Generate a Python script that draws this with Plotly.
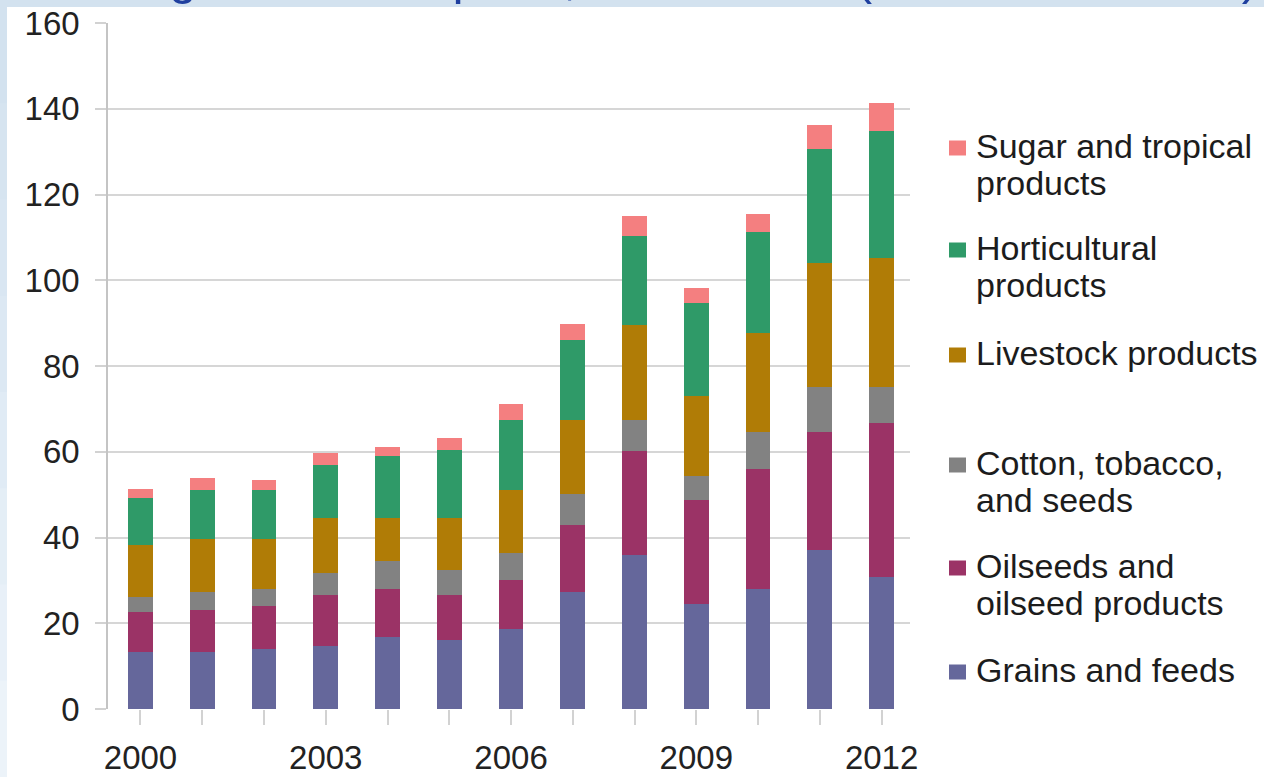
import plotly.graph_objects as go

years = [2000, 2001, 2002, 2003, 2004, 2005, 2006, 2007, 2008, 2009, 2010, 2011, 2012]
grains = [13.3, 13.2, 13.9, 14.7, 16.8, 16.1, 18.7, 27.2, 35.9, 24.5, 28.0, 37.2, 30.9]
oilseeds = [9.3, 10.0, 10.1, 12.0, 11.3, 10.6, 11.4, 15.8, 24.3, 24.3, 28.0, 27.4, 35.9]
cotton = [3.5, 4.2, 4.0, 5.1, 6.4, 5.8, 6.3, 7.2, 7.1, 5.6, 8.6, 10.6, 8.4]
livestock = [12.2, 12.2, 11.6, 12.8, 10.1, 12.1, 14.6, 17.1, 22.3, 18.7, 23.0, 28.9, 30.1]
horticultural = [10.8, 11.4, 11.4, 12.2, 14.3, 15.7, 16.3, 18.8, 20.8, 21.6, 23.6, 26.5, 29.5]
sugar = [2.1, 2.9, 2.3, 2.8, 2.1, 3.0, 3.8, 3.7, 4.5, 3.6, 4.3, 5.6, 6.5]

x_tick_labels = ["2000", "", "", "2003", "", "", "2006", "", "", "2009", "", "", "2012"]
y_ticks = [0, 20, 40, 60, 80, 100, 120, 140, 160]

series_names = ["Grains and feeds", "Oilseeds and oilseed products", "Cotton, tobacco, and seeds",
                "Livestock products", "Horticultural products", "Sugar and tropical products"]
series_values = [grains, oilseeds, cotton, livestock, horticultural, sugar]
series_colors = ["#65679b", "#9b3366", "#828282", "#b07c06", "#2f9a68", "#f47f80"]

legend_lines = [
    (["Sugar and tropical", "products"], "#f47f80", 158),
    (["Horticultural", "products"], "#2f9a68", 260),
    (["Livestock products"], "#b07c06", 365),
    (["Cotton, tobacco,", "and seeds"], "#828282", 475),
    (["Oilseeds and", "oilseed products"], "#9b3366", 578),
    (["Grains and feeds"], "#65679b", 682),
]

W, H = 1264, 777
L, R, T, B = 108, 354, 23, 68
PW = W - L - R
PH = H - T - B

def px_x(px):
    return (px - L) / PW

def px_y(py):
    return (H - B - py) / PH

FONT = "Liberation Sans, Arial, Helvetica, sans-serif"

fig = go.Figure()
for name, vals, col in zip(series_names, series_values, series_colors):
    fig.add_trace(go.Bar(x=years, y=vals, name=name, marker=dict(color=col, line=dict(width=0)),
                         width=0.4, showlegend=False))

shapes = []
# white panel
shapes.append(dict(type="rect", xref="paper", yref="paper", x0=px_x(7), x1=px_x(W + 5),
                   y0=px_y(H + 5), y1=px_y(7), fillcolor="white", line=dict(width=0), layer="below"))
# left strip gradient bands
strip_cols = ["#d3e2ef", "#d6e4f0", "#d9e6f2", "#dce8f3", "#e0ebf5", "#e4eef6", "#e8f0f8", "#ecf3f9"]
n = len(strip_cols)
for i, c in enumerate(strip_cols):
    shapes.append(dict(type="rect", xref="paper", yref="paper", x0=px_x(-2), x1=px_x(7),
                       y0=px_y(7 + (i + 1) * (H - 7) / n + 1), y1=px_y(7 + i * (H - 7) / n),
                       fillcolor=c, line=dict(width=0), layer="below"))

annotations = []
annotations.append(dict(text="U.S. agricultural exports, 2000–2012 (billions of dollars)",
                        xref="paper", yref="paper", x=px_x(28), y=px_y(7), xanchor="left", yanchor="bottom",
                        showarrow=False, font=dict(family=FONT, size=50, color="#1f3f9f")))

LF = 34
for lines, col, base in legend_lines:
    shapes.append(dict(type="rect", xref="paper", yref="paper", x0=px_x(949), x1=px_x(966),
                       y0=px_y(base - 10 + 7.5), y1=px_y(base - 10 - 7.5), fillcolor=col,
                       line=dict(width=0)))
    for k, t in enumerate(lines):
        b = base + k * 37
        annotations.append(dict(text=t, xref="paper", yref="paper", x=px_x(974), y=px_y(b - 0.3465 * LF),
                                xanchor="left", yanchor="middle", showarrow=False,
                                font=dict(family=FONT, size=LF, color="#1c1c1c")))

fig.update_layout(
    width=W, height=H,
    margin=dict(l=L, r=R, t=T, b=B, pad=0, autoexpand=False),
    paper_bgcolor="#d3e2ef",
    plot_bgcolor="white",
    barmode="stack",
    bargap=0,
    shapes=shapes,
    annotations=annotations,
    font=dict(family=FONT, size=33, color="#222222"),
    xaxis=dict(range=[1999.474, 2012.46], tickmode="array", tickvals=years, ticktext=x_tick_labels,
               ticks="outside", ticklen=15, tickwidth=2, tickcolor="#d2d2d2", showgrid=False,
               showline=False, zeroline=False, ticklabelstandoff=4, automargin=False,
               tickfont=dict(family=FONT, size=33, color="#222222")),
    yaxis=dict(range=[0, 160], tickmode="array", tickvals=y_ticks, ticks="outside", ticklen=11,
               tickwidth=2, tickcolor="#d2d2d2", showgrid=True, gridcolor="#d6d6d6", gridwidth=2,
               showline=True, linecolor="#c4c4c4", linewidth=1.5, zeroline=False, automargin=False,
               ticklabelstandoff=9, tickfont=dict(family=FONT, size=33, color="#222222")),
)

fig.write_html("out.html")
